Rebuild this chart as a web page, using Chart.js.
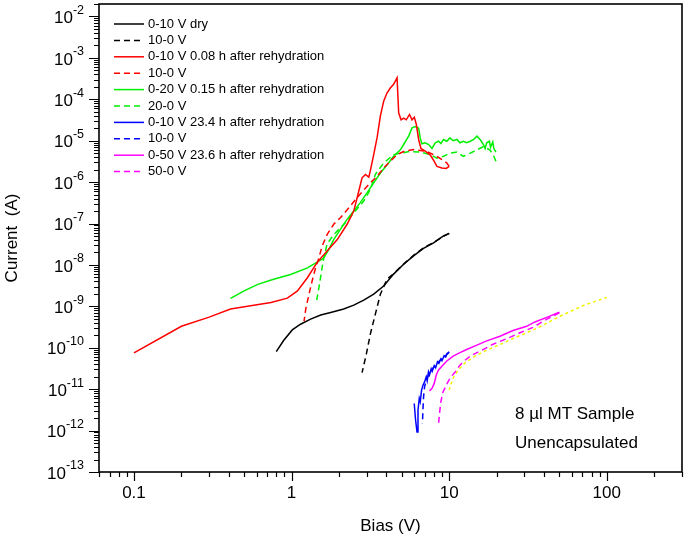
<!DOCTYPE html>
<html>
<head>
<meta charset="utf-8">
<script src="https://cdn.jsdelivr.net/npm/chart.js@4.4.1/dist/chart.umd.min.js"></script>
<style>
  body { margin: 0; background: #fff; }
  canvas { display: block; }
</style>
</head>
<body>
<canvas id="ivChart" width="685" height="538"></canvas>
<script>
// I-V sweeps, bias in volts, current in amps
const dryUpV = [0.80, 0.89, 1.01, 1.14, 1.32, 1.53, 1.77, 2.14, 2.48, 2.87, 3.32, 3.84, 4.44, 5.14, 5.94, 6.87, 7.96, 9.2, 10];
const dryUpI = [8.1e-11, 1.5e-10, 2.7e-10, 3.7e-10, 4.9e-10, 6.2e-10, 7.1e-10, 8.6e-10, 1.07e-9, 1.41e-9, 1.97e-9, 3.1e-9, 6.0e-9, 1.04e-8, 1.65e-8, 2.5e-8, 3.4e-8, 5.0e-8, 5.8e-8];
const dryDownV = [10, 9.2, 7.96, 6.87, 5.94, 5.14, 4.44, 4.03, 3.66, 3.40, 3.16, 2.98, 2.80];
const dryDownI = [5.8e-8, 4.9e-8, 3.5e-8, 2.6e-8, 1.7e-8, 1.05e-8, 6.2e-9, 4.5e-9, 1.97e-9, 6.5e-10, 2.14e-10, 7.0e-11, 2.5e-11];

const wet1UpV = [0.1, 0.2, 0.3, 0.41, 0.55, 0.74, 0.94, 1.09, 1.26, 1.45, 1.68, 1.95, 2.25, 2.48, 2.67, 2.80, 2.94, 3.09, 3.16, 3.32, 3.49, 3.66, 3.84, 4.03, 4.23, 4.44, 4.67, 4.78, 4.95, 5.14, 5.34, 5.60, 5.81, 6.01, 6.19, 6.40, 6.62, 7.05, 7.59, 8.02, 8.36, 8.99, 9.57, 10.0];
const wet1UpI = [7.5e-11, 3.3e-10, 5.5e-10, 8.6e-10, 1.03e-9, 1.24e-9, 1.58e-9, 2.36e-9, 4.9e-9, 1.14e-8, 2.17e-8, 4.1e-8, 9.6e-8, 2.0e-7, 6.1e-7, 1.27e-6, 1.53e-6, 1.32e-6, 1.9e-6, 4.6e-6, 1.2e-5, 4.0e-5, 9.0e-5, 1.42e-4, 1.87e-4, 2.3e-4, 3.3e-4, 4.7e-5, 3.2e-5, 3.5e-5, 3.2e-5, 4.3e-5, 3.2e-5, 3.7e-5, 2.46e-5, 1.07e-5, 6.5e-6, 5.6e-6, 4.5e-6, 3.2e-6, 2.4e-6, 2.2e-6, 2.14e-6, 2.4e-6];
const wet1DownV = [10.0, 9.66, 8.36, 7.23, 5.95, 5.14, 4.67, 4.23, 3.84, 3.49, 3.1, 2.60, 2.31, 2.04, 1.85, 1.68, 1.56, 1.49, 1.42, 1.35, 1.29, 1.23, 1.20];
const wet1DownI = [2.4e-6, 2.9e-6, 4.2e-6, 5.5e-6, 6.1e-6, 5.5e-6, 4.6e-6, 3.2e-6, 2.2e-6, 1.38e-6, 9.0e-7, 4.2e-7, 2.4e-7, 1.38e-7, 9.6e-8, 5.4e-8, 2.8e-8, 1.47e-8, 8.5e-9, 4.1e-9, 1.96e-9, 8.6e-10, 4.4e-10];

const wet2UpV = [0.41, 0.50, 0.61, 0.77, 0.985, 1.26, 1.49, 1.60, 1.72, 1.85, 2.04, 2.25, 2.48, 2.73, 3.01, 3.32, 3.66, 4.03, 4.44, 4.9, 5.14, 5.53, 5.81, 6.10, 6.40, 6.55, 6.71, 7.05, 7.41, 7.78, 8.16, 8.57, 8.87, 9.2, 9.66, 10.1, 10.6, 11.2, 11.7, 12.3, 12.9, 13.6, 14.3, 15.0, 15.7, 16.5, 16.9, 17.3, 18.0, 18.3, 18.9, 19.2, 19.8];
const wet2UpI = [1.55e-9, 2.36e-9, 3.4e-9, 4.5e-9, 5.9e-9, 8.5e-9, 1.23e-8, 1.47e-8, 2.35e-8, 4.1e-8, 7.2e-8, 1.26e-7, 2.0e-7, 3.2e-7, 5.5e-7, 9.6e-7, 1.66e-6, 2.6e-6, 4.2e-6, 6.0e-6, 8.1e-6, 1.29e-5, 2.04e-5, 2.2e-5, 2.0e-5, 1.17e-5, 8.4e-6, 8.9e-6, 8.1e-6, 6.5e-6, 8.9e-6, 9.7e-6, 8.5e-6, 1.07e-5, 9.7e-6, 1.17e-5, 1.0e-5, 1.07e-5, 8.9e-6, 9.7e-6, 8.9e-6, 9.7e-6, 1.07e-5, 1.29e-5, 1.07e-5, 8.1e-6, 6.5e-6, 8.9e-6, 9.7e-6, 6.9e-6, 9.3e-6, 6.5e-6, 5.3e-6];
const wet2DownV = [19.8, 19.0, 18.1, 16.5, 15.0, 13.6, 12.3, 11.2, 10.1, 9.2, 8.36, 7.59, 6.55, 5.65, 4.9, 4.44, 3.84, 3.4, 3.16, 2.87, 2.48, 2.14, 1.85, 1.68, 1.60, 1.55, 1.49, 1.44];
const wet2DownI = [3.2e-6, 4.6e-6, 6.0e-6, 7.2e-6, 6.0e-6, 5.0e-6, 4.2e-6, 5.3e-6, 5.0e-6, 4.2e-6, 3.8e-6, 4.6e-6, 5.3e-6, 5.5e-6, 5.0e-6, 4.6e-6, 2.9e-6, 1.54e-6, 6.6e-7, 3.5e-7, 1.8e-7, 9.5e-8, 5.4e-8, 3.2e-8, 1.47e-8, 7.1e-9, 2.8e-9, 1.33e-9];

const wet3UpV = [6.0, 6.12, 6.25, 6.34, 6.46, 6.55, 6.68, 6.82, 6.98, 7.15, 7.25, 7.39, 7.5, 7.69, 7.8, 8.04, 8.2, 8.43, 8.6, 8.86, 9.0, 9.29, 9.5, 9.67, 10.0];
const wet3UpI = [4.5e-12, 1.8e-12, 9.3e-13, 3.1e-12, 6.0e-12, 5.0e-12, 9.5e-12, 1.25e-11, 1.5e-11, 2.0e-11, 1.6e-11, 2.6e-11, 2.2e-11, 3.1e-11, 2.7e-11, 3.7e-11, 3.3e-11, 4.6e-11, 4.2e-11, 5.4e-11, 4.9e-11, 6.4e-11, 6.0e-11, 7.2e-11, 8.0e-11];
const wet3DownV = [10.0, 9.43, 8.77, 8.15, 7.59, 7.22, 6.98, 6.88, 6.82, 6.78, 6.75];
const wet3DownI = [7.8e-11, 6.3e-11, 5.0e-11, 3.8e-11, 2.6e-11, 1.82e-11, 1.15e-11, 6.6e-12, 3.4e-12, 1.8e-12, 1.48e-12];

const wet4UpV = [7.5, 7.77, 8.04, 8.28, 8.56, 8.99, 9.66, 10.6, 11.7, 12.9, 15.0, 17.3, 21.0, 25.4, 31.0, 35.0, 42, 50];
const wet4UpI = [9.0e-12, 1.04e-11, 1.38e-11, 2.2e-11, 2.9e-11, 3.6e-11, 4.8e-11, 6.3e-11, 7.6e-11, 9.1e-11, 1.16e-10, 1.47e-10, 1.9e-10, 2.6e-10, 3.3e-10, 4.2e-10, 5.5e-10, 7.2e-10];
const wet4DownV = [50, 42, 34.0, 28.1, 23.3, 19.0, 16.1, 13.9, 12.6, 11.7, 10.9, 10.1, 9.57, 9.1, 8.86, 8.7, 8.56];
const wet4DownI = [7.0e-10, 5.0e-10, 3.1e-10, 2.3e-10, 1.67e-10, 1.22e-10, 8.7e-11, 6.6e-11, 5.0e-11, 3.8e-11, 2.6e-11, 1.82e-11, 1.25e-11, 8.2e-12, 5.0e-12, 2.8e-12, 1.48e-12];

// unlabeled yellow trace
const extraV = [10.0, 10.3, 10.7, 11.4, 12.6, 14.6, 17.3, 21.0, 25.4, 31.0, 37.6, 50, 72, 100];
const extraI = [9.5e-12, 1.38e-11, 2.0e-11, 2.9e-11, 4.3e-11, 6.3e-11, 8.7e-11, 1.2e-10, 1.67e-10, 2.3e-10, 3.2e-10, 5.7e-10, 1.07e-9, 1.65e-9];

// tick labels
const xTickValues = [0.1, 1, 10, 100];
const xTickLabels = ['0.1', '1', '10', '100'];
const yTickExps = [-2, -3, -4, -5, -6, -7, -8, -9, -10, -11, -12, -13];

const notes = ['8 \u00b5l MT Sample', 'Unencapsulated'];

const fontFamily = '"Liberation Sans", Arial, sans-serif';

function pairs(xs, ys) {
    return xs.map((v, i) => ({ x: v, y: ys[i] }));
}

function series(label, xs, ys, color, dash) {
    return {
        label: label,
        data: pairs(xs, ys),
        borderColor: color,
        backgroundColor: color,
        borderWidth: 1.5,
        borderDash: dash || [],
        pointRadius: 0,
        tension: 0,
        fill: false
    };
}

const dashed = [6, 4];

// draws the box, log ticks, tick labels, legend and the note
const axesPlugin = {
    id: 'axesPlugin',
    afterDraw(chart) {
        const ctx = chart.ctx;
        const area = chart.chartArea;
        const xs = chart.scales.x;
        const ys = chart.scales.y;
        ctx.save();

        ctx.strokeStyle = '#000';
        ctx.lineWidth = 1.6;
        ctx.strokeRect(area.left, area.top, area.right - area.left, area.bottom - area.top);

        // minor and major ticks
        ctx.lineWidth = 1.2;
        ctx.beginPath();
        for (let e = -2; e <= 2; e++) {
            for (let m = 1; m <= 9; m++) {
                const v = m * Math.pow(10, e);
                if (v < xs.min || v > xs.max) continue;
                const px = Math.round(xs.getPixelForValue(v)) + 0.5;
                ctx.moveTo(px, area.bottom);
                ctx.lineTo(px, area.bottom + (m === 1 ? 9 : 5));
            }
        }
        for (let e = -13; e <= -2; e++) {
            for (let m = 1; m <= 9; m++) {
                const v = m * Math.pow(10, e);
                if (v < ys.min * 0.999 || v > ys.max * 1.001) continue;
                const py = Math.round(ys.getPixelForValue(v)) + 0.5;
                ctx.moveTo(area.left, py);
                ctx.lineTo(area.left - (m === 1 ? 10 : 5), py);
            }
        }
        ctx.stroke();

        ctx.fillStyle = '#000';
        ctx.font = '17px ' + fontFamily;
        ctx.textAlign = 'center';
        ctx.textBaseline = 'top';
        xTickValues.forEach((v, i) => {
            ctx.fillText(xTickLabels[i], xs.getPixelForValue(v), area.bottom + 13);
        });

        // 10 with a raised exponent
        const baseFont = '17px ' + fontFamily;
        const supFont = '12.5px ' + fontFamily;
        ctx.textAlign = 'left';
        ctx.textBaseline = 'middle';
        yTickExps.forEach(e => {
            const py = ys.getPixelForValue(Math.pow(10, e));
            const sup = String(e);
            ctx.font = supFont;
            const ws = ctx.measureText(sup).width;
            ctx.font = baseFont;
            const wb = ctx.measureText('10').width;
            const right = area.left - 15;
            ctx.fillText('10', right - ws - wb, py + 2);
            ctx.font = supFont;
            ctx.fillText(sup, right - ws, py - 6);
        });

        // legend
        ctx.font = '13px ' + fontFamily;
        let row = 0;
        chart.data.datasets.forEach(ds => {
            if (!ds.label) return;
            const y = 24 + row * 16.4;
            ctx.strokeStyle = ds.borderColor;
            ctx.lineWidth = ds.borderWidth;
            ctx.setLineDash(ds.borderDash);
            ctx.beginPath();
            ctx.moveTo(114, y);
            ctx.lineTo(144, y);
            ctx.stroke();
            ctx.setLineDash([]);
            ctx.fillText(ds.label, 148, y);
            row++;
        });

        ctx.font = '17px ' + fontFamily;
        ctx.fillText(notes[0], 515, 414);
        ctx.fillText(notes[1], 515, 443);

        ctx.restore();
    }
};

const ctx = document.getElementById('ivChart').getContext('2d');
const ivChart = new Chart(ctx, {
    type: 'line',
    data: {
        datasets: [
            series('0-10 V dry', dryUpV, dryUpI, '#000000'),
            series('10-0 V', dryDownV, dryDownI, '#000000', dashed),
            series('0-10 V 0.08 h after rehydration', wet1UpV, wet1UpI, '#ff0000'),
            series('10-0 V', wet1DownV, wet1DownI, '#ff0000', dashed),
            series('0-20 V 0.15 h after rehydration', wet2UpV, wet2UpI, '#00ee00'),
            series('20-0 V', wet2DownV, wet2DownI, '#00ee00', dashed),
            series('0-10 V 23.4 h after rehydration', wet3UpV, wet3UpI, '#0000ff'),
            series('10-0 V', wet3DownV, wet3DownI, '#0000ff', dashed),
            series('0-50 V 23.6 h after rehydration', wet4UpV, wet4UpI, '#ff00ff'),
            series('50-0 V', wet4DownV, wet4DownI, '#ff00ff', dashed),
            series('', extraV, extraI, '#f2f200', [3, 3])
        ]
    },
    options: {
        responsive: false,
        animation: false,
        events: [],
        layout: { padding: { top: 4, right: 3, left: 0, bottom: 0 } },
        plugins: {
            legend: { display: false },
            tooltip: { enabled: false }
        },
        scales: {
            x: {
                type: 'logarithmic',
                min: 0.06,
                max: 300,
                grid: { display: false },
                border: { display: false },
                ticks: { display: false },
                title: {
                    display: true,
                    text: 'Bias (V)',
                    color: '#000',
                    font: { family: fontFamily, size: 17 },
                    padding: { top: 0, bottom: 1 }
                },
                afterFit(scale) { scale.height = 66; }
            },
            y: {
                type: 'logarithmic',
                min: 1e-13,
                max: 0.02,
                grid: { display: false },
                border: { display: false },
                ticks: { display: false },
                title: {
                    display: true,
                    text: 'Current  (A)',
                    color: '#000',
                    font: { family: fontFamily, size: 17 },
                    padding: { top: 2, bottom: 0 }
                },
                afterFit(scale) { scale.width = 99; }
            }
        }
    },
    plugins: [axesPlugin]
});
</script>
</body>
</html>
